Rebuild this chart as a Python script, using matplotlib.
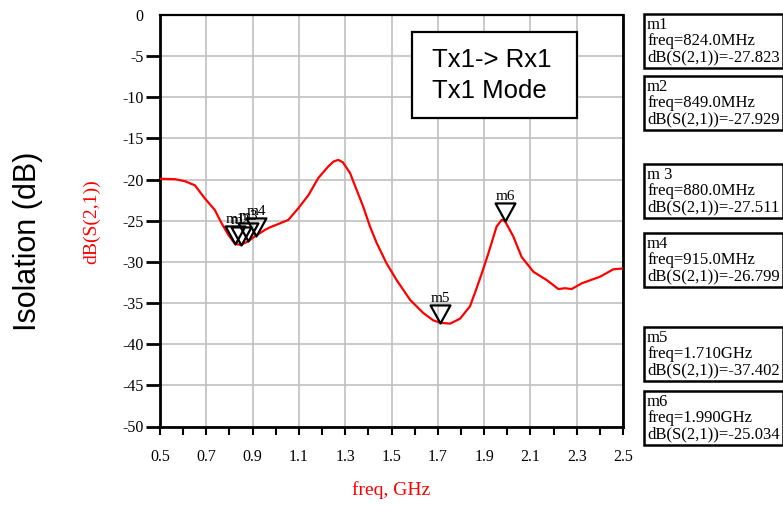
import matplotlib
matplotlib.use("Agg")
import matplotlib.pyplot as plt
from matplotlib.path import Path
from matplotlib.patches import Rectangle
from matplotlib.ticker import MultipleLocator

# ---- data ----
freq_ghz = [0.50, 0.565, 0.608, 0.651, 0.694, 0.737, 0.766, 0.795, 0.824, 0.849,
            0.880, 0.915, 0.954, 0.975, 1.011, 1.054, 1.097, 1.141, 1.184, 1.227,
            1.250, 1.270, 1.290, 1.321, 1.350, 1.378, 1.407, 1.436, 1.479, 1.522,
            1.580, 1.637, 1.680, 1.710, 1.753, 1.796, 1.839, 1.865, 1.890, 1.918,
            1.954, 1.976, 1.990, 2.026, 2.062, 2.113, 2.170, 2.221, 2.250, 2.278,
            2.322, 2.401, 2.458, 2.500]
s21_db = [-19.9, -19.95, -20.2, -20.7, -22.3, -23.7, -25.3, -26.7, -27.82, -27.93,
          -27.51, -26.80, -26.1, -25.8, -25.4, -24.9, -23.5, -21.9, -19.8, -18.4,
          -17.8, -17.6, -17.9, -19.2, -21.3, -23.3, -25.7, -27.7, -30.2, -32.2,
          -34.6, -36.2, -37.1, -37.40, -37.5, -36.9, -35.4, -33.4, -31.4, -29.0,
          -25.7, -24.9, -25.03, -26.9, -29.4, -31.2, -32.2, -33.3, -33.2, -33.3,
          -32.6, -31.8, -30.9, -30.8]

marker_names = ["m1", "m2", "m3", "m4", "m5", "m6"]
marker_freq_ghz = [0.824, 0.849, 0.880, 0.915, 1.710, 1.990]
marker_db = [-27.823, -27.929, -27.511, -26.799, -37.402, -25.034]
marker_freq_text = ["824.0MHz", "849.0MHz", "880.0MHz", "915.0MHz", "1.710GHz", "1.990GHz"]
marker_name_text = ["m1", "m2", "m 3", "m4", "m5", "m6"]

x_ticks = [0.5, 0.7, 0.9, 1.1, 1.3, 1.5, 1.7, 1.9, 2.1, 2.3, 2.5]
x_tick_labels = ["0.5", "0.7", "0.9", "1.1", "1.3", "1.5", "1.7", "1.9", "2.1", "2.3", "2.5"]
y_ticks = [0, -5, -10, -15, -20, -25, -30, -35, -40, -45, -50]
y_tick_labels = ["0", "-5", "-10", "-15", "-20", "-25", "-30", "-35", "-40", "-45", "-50"]

SERIF = ["Liberation Serif", "DejaVu Serif"]
SANS = ["Liberation Sans", "DejaVu Sans"]

W, H = 783, 505
fig = plt.figure(figsize=(W / 100, H / 100), dpi=100)
L, R, T, B = 160, 623, 15, 426.5
ax = fig.add_axes([L / W, 1 - B / H, (R - L) / W, (B - T) / H])

ax.plot(freq_ghz, s21_db, color="red", lw=1.6, zorder=3)
ax.set_xlim(0.5, 2.5)
ax.set_ylim(-50, 0)

ax.set_xticks(x_ticks)
ax.set_xticklabels(x_tick_labels, family=SERIF, fontsize=11.5)
ax.xaxis.set_minor_locator(MultipleLocator(0.1))
ax.set_yticks(y_ticks)
ax.set_yticklabels(y_tick_labels, family=SERIF, fontsize=11.5)
ax.tick_params(axis="x", which="major", direction="out", length=6, width=1.5, pad=10, colors="black")
ax.tick_params(axis="x", which="minor", direction="out", length=6, width=1.5)
ax.tick_params(axis="y", which="major", direction="out", length=10, width=2, pad=2)
ax.yaxis.get_major_ticks()[0].tick1line.set_visible(False)

ax.grid(True, which="major", color="#c0c0c0", lw=1.2, zorder=0)
ax.set_axisbelow(True)
for sp in ax.spines.values():
    sp.set_color("black")
    sp.set_linewidth(1.6)
ax.spines["left"].set_linewidth(2)
ax.spines["bottom"].set_linewidth(2)
ax.spines["right"].set_linewidth(2)

# markers (hollow triangles with tip on the data point)
tri = Path([(-0.55, 1.0), (0.55, 1.0), (0.0, 0.0), (-0.55, 1.0)],
           [Path.MOVETO, Path.LINETO, Path.LINETO, Path.CLOSEPOLY])
ax.plot(marker_freq_ghz, marker_db, linestyle="none", marker=tri, markersize=26,
        markerfacecolor="none", markeredgecolor="black", markeredgewidth=1.6, zorder=4)
for name, fx, dy in zip(marker_names, marker_freq_ghz, marker_db):
    ax.annotate(name, (fx, dy), xytext=(0, 18), textcoords="offset pixels",
                ha="center", va="bottom", family=SERIF, fontsize=11, zorder=5)

# in-plot title box
fig.patches.append(Rectangle((412 / W, 1 - 118 / H), (577 - 412) / W, (118 - 32) / H,
                             transform=fig.transFigure, facecolor="white",
                             edgecolor="black", lw=1.6, zorder=5))
fig.text(432 / W, 1 - 60 / H, "Tx1-> Rx1", family=SANS, fontsize=18.5,
         ha="left", va="center", zorder=6)
fig.text(432 / W, 1 - 91 / H, "Tx1 Mode", family=SANS, fontsize=18.5,
         ha="left", va="center", zorder=6)

# marker readout boxes
box_tops = [13, 75, 163, 232, 326, 390]
for nm, ft, dv, top in zip(marker_name_text, marker_freq_text, marker_db, box_tops):
    txt = f"{nm}\nfreq={ft}\ndB(S(2,1))={dv:.3f}"
    fig.text(647 / W, 1 - (top + 4) / H, txt, family=SERIF, fontsize=12,
             ha="left", va="top", linespacing=1.0,
             bbox=dict(boxstyle="square,pad=0.2", facecolor="white",
                       edgecolor="black", lw=1.8))

# axis labels
fig.text(28 / W, 1 - 241 / H, "Isolation (dB)", family=SANS, fontsize=22,
         rotation=90, ha="center", va="center")
fig.text(92 / W, 1 - 222 / H, "dB(S(2,1))", family=SERIF, fontsize=14,
         color="red", rotation=90, ha="center", va="center")
fig.text(391 / W, 1 - 490 / H, "freq, GHz", family=SERIF, fontsize=14,
         color="red", ha="center", va="center")

fig.savefig("out.png", dpi=100)
